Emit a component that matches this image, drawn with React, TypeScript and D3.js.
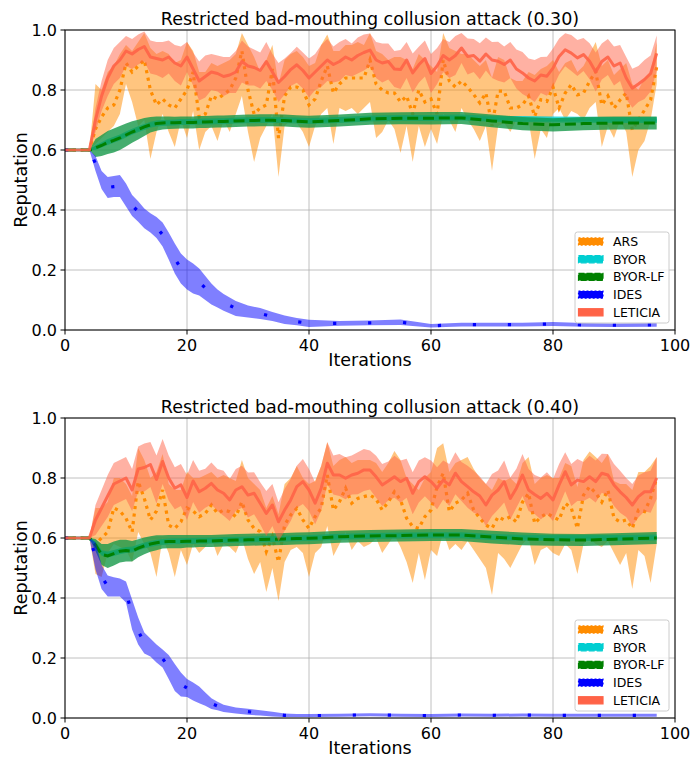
import React from "react";
import * as d3 from "d3";

// iterations sampled for the noisy series (ARS, LETICIA)
const ITER = [
  0,
  4, 5, 6, 7, 8, 9,
  10, 11, 12, 13, 14, 15, 16, 17, 18, 19,
  20, 21, 22, 23, 24, 25, 26, 27, 28, 29,
  30, 31, 32, 33, 34, 35, 36, 37, 38, 39,
  40, 41, 42, 43, 44, 45, 46, 47, 48, 49,
  50, 51, 52, 53, 54, 55, 56, 57, 58, 59,
  60, 61, 62, 63, 64, 65, 66, 67, 68, 69,
  70, 71, 72, 73, 74, 75, 76, 77, 78, 79,
  80, 81, 82, 83, 84, 85, 86, 87, 88, 89,
  90, 91, 92, 93, 94, 95, 96, 97,
];

// iterations sampled for the smooth series (BYOR, BYOR-LF, IDES)
const S_ITER = [
  0, 4, 5, 6, 7, 8, 9, 10, 11, 12, 13, 14, 15, 16, 17, 18, 19, 20, 21, 22, 23, 24, 25, 26,
  28, 30, 32, 34, 36, 38, 40, 45, 50, 55, 60, 65, 70, 75, 80, 85, 90, 97,
];

// ---------- panel 1 : attack 0.30 ----------
const ARS_MEAN_30 = [
  0.6,
  0.60, 0.67, 0.71, 0.74, 0.75, 0.80,
  0.89, 0.86, 0.88, 0.90, 0.80, 0.75, 0.77, 0.75, 0.74, 0.77,
  0.80, 0.86, 0.71, 0.72, 0.78, 0.77, 0.785, 0.80, 0.84, 0.93,
  0.80, 0.72, 0.74, 0.75, 0.87, 0.64, 0.78, 0.81, 0.81, 0.80,
  0.75, 0.77, 0.83, 0.88, 0.79, 0.82, 0.84, 0.84, 0.84, 0.84,
  0.90, 0.82, 0.80, 0.79, 0.79, 0.76, 0.78, 0.72, 0.80, 0.76,
  0.77, 0.72, 0.90, 0.83, 0.81, 0.83, 0.81, 0.785, 0.757, 0.79,
  0.68, 0.796, 0.796, 0.74, 0.74, 0.751, 0.779, 0.712, 0.768, 0.762,
  0.81, 0.74, 0.79, 0.818, 0.784, 0.79, 0.829, 0.862, 0.75, 0.78,
  0.739, 0.767, 0.79, 0.667, 0.70, 0.733, 0.767, 0.878,
];
const ARS_LO_30 = [
  0.6,
  0.60, 0.62, 0.64, 0.66, 0.68, 0.72,
  0.82, 0.76, 0.68, 0.70, 0.57, 0.66, 0.72, 0.66, 0.61, 0.70,
  0.64, 0.73, 0.60, 0.66, 0.68, 0.63, 0.70, 0.66, 0.72, 0.78,
  0.66, 0.56, 0.64, 0.68, 0.72, 0.51, 0.68, 0.70, 0.69, 0.66,
  0.61, 0.68, 0.72, 0.74, 0.62, 0.74, 0.73, 0.74, 0.72, 0.74,
  0.76, 0.64, 0.66, 0.70, 0.67, 0.59, 0.68, 0.56, 0.68, 0.61,
  0.67, 0.62, 0.72, 0.70, 0.66, 0.74, 0.70, 0.67, 0.63, 0.68,
  0.53, 0.68, 0.69, 0.66, 0.70, 0.69, 0.70, 0.57, 0.67, 0.64,
  0.72, 0.74, 0.70, 0.73, 0.72, 0.70, 0.74, 0.76, 0.61, 0.68,
  0.64, 0.70, 0.66, 0.51, 0.60, 0.63, 0.70, 0.82,
];
const ARS_HI_30 = [
  0.6,
  0.60, 0.82, 0.80, 0.86, 0.88, 0.92,
  0.95, 0.93, 0.96, 0.99, 0.94, 0.92, 0.93, 0.92, 0.89, 0.90,
  0.96, 0.93, 0.86, 0.86, 0.89, 0.88, 0.89, 0.90, 0.92, 0.99,
  0.95, 0.91, 0.86, 0.90, 0.95, 0.82, 0.90, 0.92, 0.93, 0.91,
  0.88, 0.89, 0.95, 0.985, 0.93, 0.93, 0.95, 0.95, 0.96, 0.95,
  0.99, 0.93, 0.92, 0.90, 0.91, 0.91, 0.90, 0.87, 0.92, 0.90,
  0.88, 0.86, 0.99, 0.94, 0.93, 0.92, 0.92, 0.90, 0.88, 0.90,
  0.84, 0.91, 0.90, 0.84, 0.83, 0.83, 0.86, 0.85, 0.87, 0.88,
  0.90, 0.86, 0.89, 0.90, 0.86, 0.88, 0.92, 0.96, 0.88, 0.90,
  0.85, 0.87, 0.89, 0.82, 0.80, 0.84, 0.86, 0.96,
];
const LET_MEAN_30 = [
  0.6,
  0.60, 0.70, 0.78, 0.84, 0.88, 0.90,
  0.93, 0.92, 0.935, 0.945, 0.91, 0.905, 0.90, 0.91, 0.89, 0.88,
  0.91, 0.87, 0.83, 0.845, 0.86, 0.855, 0.845, 0.85, 0.86, 0.895,
  0.88, 0.875, 0.865, 0.895, 0.86, 0.825, 0.845, 0.868, 0.884, 0.865,
  0.84, 0.86, 0.88, 0.90, 0.885, 0.895, 0.91, 0.90, 0.915, 0.925,
  0.933, 0.90, 0.89, 0.895, 0.87, 0.868, 0.90, 0.857, 0.884, 0.905,
  0.855, 0.88, 0.915, 0.90, 0.915, 0.94, 0.912, 0.915, 0.896, 0.92,
  0.90, 0.896, 0.885, 0.90, 0.87, 0.857, 0.84, 0.83, 0.85, 0.846,
  0.873, 0.912, 0.934, 0.923, 0.907, 0.918, 0.896, 0.86, 0.895, 0.91,
  0.88, 0.89, 0.84, 0.806, 0.82, 0.835, 0.855, 0.922,
];
const LET_SD_30 = [
  0,
  0, 0.04, 0.05, 0.06, 0.06, 0.06,
  0.05, 0.05, 0.05, 0.05, 0.055, 0.055, 0.06, 0.055, 0.06, 0.065,
  0.05, 0.055, 0.065, 0.07, 0.06, 0.06, 0.065, 0.06, 0.07, 0.07,
  0.065, 0.06, 0.06, 0.065, 0.06, 0.065, 0.06, 0.055, 0.06, 0.06,
  0.065, 0.06, 0.07, 0.07, 0.06, 0.065, 0.06, 0.055, 0.06, 0.06,
  0.055, 0.06, 0.065, 0.06, 0.06, 0.065, 0.06, 0.065, 0.06, 0.06,
  0.065, 0.06, 0.055, 0.06, 0.065, 0.05, 0.06, 0.055, 0.06, 0.055,
  0.06, 0.065, 0.06, 0.06, 0.065, 0.07, 0.065, 0.07, 0.06, 0.065,
  0.065, 0.06, 0.055, 0.06, 0.06, 0.055, 0.06, 0.065, 0.06, 0.06,
  0.065, 0.06, 0.07, 0.065, 0.06, 0.065, 0.06, 0.06,
];
const BYOR_MEAN_30 = [
  0.6, 0.6, 0.608, 0.617, 0.627, 0.634, 0.642, 0.652, 0.661, 0.669, 0.677, 0.684, 0.688, 0.69,
  0.691, 0.692, 0.693, 0.693, 0.694, 0.694, 0.695, 0.695, 0.696, 0.696,
  0.698, 0.699, 0.700, 0.700, 0.699, 0.698, 0.697, 0.700, 0.705, 0.707, 0.707, 0.708, 0.704,
  0.703, 0.702, 0.701, 0.700, 0.700,
];
const BYOR_SD_30 = [
  0, 0, 0.008, 0.009, 0.01, 0.01, 0.01, 0.01, 0.01, 0.01, 0.01, 0.01, 0.01, 0.01,
  0.01, 0.01, 0.01, 0.01, 0.01, 0.01, 0.01, 0.01, 0.01, 0.01,
  0.01, 0.01, 0.01, 0.01, 0.01, 0.01, 0.01, 0.01, 0.01, 0.01, 0.01, 0.01, 0.01,
  0.01, 0.01, 0.01, 0.01, 0.01,
];
const LF_MEAN_30 = [
  0.6, 0.6, 0.607, 0.615, 0.625, 0.632, 0.64, 0.65, 0.66, 0.668, 0.677, 0.684, 0.688, 0.69,
  0.691, 0.691, 0.692, 0.692, 0.692, 0.693, 0.693, 0.694, 0.695, 0.695,
  0.697, 0.698, 0.699, 0.699, 0.698, 0.696, 0.694, 0.698, 0.704, 0.706, 0.706, 0.707, 0.697,
  0.688, 0.684, 0.688, 0.69, 0.69,
];
const LF_SD_30 = [
  0, 0, 0.03, 0.035, 0.038, 0.04, 0.04, 0.038, 0.036, 0.033, 0.03, 0.026, 0.024, 0.022,
  0.021, 0.02, 0.02, 0.02, 0.02, 0.02, 0.02, 0.02, 0.02, 0.02,
  0.02, 0.02, 0.02, 0.02, 0.02, 0.02, 0.02, 0.02, 0.02, 0.02, 0.021, 0.02, 0.021,
  0.022, 0.022, 0.022, 0.022, 0.022,
];
const IDES_MEAN_30 = [
  0.6, 0.6, 0.555, 0.50, 0.475, 0.478, 0.48, 0.45, 0.415, 0.395, 0.372, 0.357, 0.342, 0.318,
  0.28, 0.238, 0.205, 0.185, 0.172, 0.16, 0.14, 0.12, 0.105, 0.092,
  0.072, 0.062, 0.055, 0.045, 0.034, 0.028, 0.022, 0.022, 0.024, 0.026, 0.014, 0.018, 0.018,
  0.018, 0.02, 0.017, 0.016, 0.017,
];
const IDES_SD_30 = [
  0, 0, 0.025, 0.03, 0.035, 0.035, 0.037, 0.038, 0.035, 0.034, 0.033, 0.032, 0.035, 0.04,
  0.045, 0.05, 0.05, 0.05, 0.05, 0.045, 0.04, 0.035, 0.03, 0.028,
  0.025, 0.02, 0.018, 0.015, 0.014, 0.012, 0.012, 0.008, 0.008, 0.009, 0.006, 0.006, 0.006,
  0.006, 0.007, 0.006, 0.006, 0.006,
];

// ---------- panel 2 : attack 0.40 ----------
const ARS_MEAN_40 = [
  0.6,
  0.60, 0.58, 0.60, 0.62, 0.70, 0.69,
  0.666, 0.62, 0.788, 0.732, 0.66, 0.69, 0.76, 0.643, 0.632, 0.654,
  0.70, 0.69, 0.671, 0.682, 0.71, 0.682, 0.693, 0.688, 0.671, 0.721,
  0.66, 0.632, 0.621, 0.554, 0.604, 0.52, 0.643, 0.677, 0.699, 0.66,
  0.632, 0.671, 0.70, 0.81, 0.693, 0.721, 0.766, 0.716, 0.732, 0.738,
  0.743, 0.73, 0.693, 0.72, 0.754, 0.727, 0.666, 0.638, 0.632, 0.671,
  0.693, 0.771, 0.816, 0.688, 0.716, 0.727, 0.749, 0.693, 0.666, 0.643,
  0.632, 0.671, 0.66, 0.671, 0.654, 0.72, 0.749, 0.649, 0.67, 0.682,
  0.671, 0.66, 0.716, 0.70, 0.632, 0.743, 0.771, 0.75, 0.72, 0.76,
  0.666, 0.654, 0.66, 0.632, 0.693, 0.688, 0.732, 0.80,
];
const ARS_LO_40 = [
  0.6,
  0.60, 0.48, 0.47, 0.55, 0.58, 0.57,
  0.56, 0.52, 0.62, 0.58, 0.55, 0.47, 0.60, 0.55, 0.47, 0.56,
  0.51, 0.58, 0.55, 0.57, 0.60, 0.54, 0.58, 0.57, 0.55, 0.60,
  0.53, 0.48, 0.52, 0.42, 0.50, 0.39, 0.52, 0.56, 0.57, 0.55,
  0.47, 0.55, 0.57, 0.64, 0.54, 0.58, 0.62, 0.56, 0.59, 0.57,
  0.58, 0.60, 0.55, 0.58, 0.61, 0.57, 0.52, 0.45, 0.55, 0.46,
  0.56, 0.54, 0.62, 0.56, 0.58, 0.56, 0.59, 0.56, 0.53, 0.50,
  0.41, 0.55, 0.53, 0.50, 0.54, 0.58, 0.60, 0.51, 0.56, 0.57,
  0.55, 0.54, 0.58, 0.56, 0.48, 0.58, 0.60, 0.58, 0.57, 0.59,
  0.55, 0.51, 0.55, 0.43, 0.56, 0.54, 0.45, 0.58,
];
const ARS_HI_40 = [
  0.6,
  0.60, 0.70, 0.70, 0.72, 0.80, 0.80,
  0.78, 0.74, 0.90, 0.86, 0.80, 0.82, 0.88, 0.78, 0.76, 0.76,
  0.82, 0.80, 0.80, 0.81, 0.82, 0.80, 0.81, 0.80, 0.79, 0.86,
  0.80, 0.78, 0.76, 0.70, 0.74, 0.68, 0.78, 0.80, 0.84, 0.80,
  0.78, 0.79, 0.84, 0.92, 0.84, 0.86, 0.87, 0.85, 0.86, 0.86,
  0.86, 0.85, 0.82, 0.85, 0.89, 0.86, 0.80, 0.78, 0.76, 0.80,
  0.82, 0.90, 0.916, 0.82, 0.85, 0.86, 0.87, 0.83, 0.80, 0.78,
  0.76, 0.80, 0.79, 0.80, 0.78, 0.85, 0.87, 0.78, 0.80, 0.81,
  0.80, 0.80, 0.85, 0.84, 0.77, 0.86, 0.888, 0.87, 0.85, 0.88,
  0.79, 0.78, 0.78, 0.76, 0.82, 0.82, 0.84, 0.87,
];
const LET_MEAN_40 = [
  0.6,
  0.60, 0.66, 0.70, 0.74, 0.78, 0.79,
  0.80, 0.76, 0.83, 0.835, 0.845, 0.795, 0.855, 0.80, 0.766, 0.777,
  0.735, 0.79, 0.754, 0.766, 0.782, 0.76, 0.749, 0.727, 0.76, 0.771,
  0.743, 0.749, 0.716, 0.682, 0.71, 0.654, 0.693, 0.727, 0.771, 0.788,
  0.76, 0.716, 0.766, 0.849, 0.81, 0.81, 0.799, 0.81, 0.816, 0.827,
  0.827, 0.804, 0.777, 0.79, 0.804, 0.788, 0.799, 0.749, 0.788, 0.804,
  0.788, 0.766, 0.793, 0.777, 0.816, 0.788, 0.771, 0.754, 0.74, 0.71,
  0.743, 0.76, 0.788, 0.732, 0.766, 0.81, 0.76, 0.745, 0.732, 0.749,
  0.727, 0.777, 0.821, 0.777, 0.793, 0.788, 0.804, 0.788, 0.816, 0.81,
  0.777, 0.754, 0.735, 0.71, 0.738, 0.754, 0.754, 0.80,
];
const LET_SD_40 = [
  0,
  0, 0.05, 0.06, 0.07, 0.07, 0.07,
  0.07, 0.07, 0.075, 0.08, 0.075, 0.08, 0.075, 0.075, 0.07, 0.07,
  0.075, 0.07, 0.07, 0.065, 0.07, 0.07, 0.075, 0.07, 0.07, 0.07,
  0.075, 0.07, 0.07, 0.075, 0.07, 0.065, 0.07, 0.07, 0.07, 0.075,
  0.07, 0.07, 0.075, 0.07, 0.065, 0.07, 0.07, 0.065, 0.07, 0.07,
  0.065, 0.07, 0.07, 0.065, 0.07, 0.07, 0.065, 0.07, 0.07, 0.065,
  0.07, 0.07, 0.065, 0.07, 0.07, 0.065, 0.07, 0.07, 0.065, 0.07,
  0.07, 0.065, 0.07, 0.07, 0.065, 0.07, 0.07, 0.065, 0.07, 0.07,
  0.07, 0.07, 0.065, 0.07, 0.07, 0.065, 0.07, 0.07, 0.065, 0.07,
  0.07, 0.07, 0.065, 0.07, 0.07, 0.065, 0.07, 0.07,
];
const BYOR_MEAN_40 = [
  0.6, 0.6, 0.58, 0.55, 0.545, 0.55, 0.556, 0.56, 0.562, 0.568, 0.575, 0.58, 0.584, 0.587,
  0.588, 0.589, 0.589, 0.59, 0.59, 0.591, 0.591, 0.592, 0.592, 0.593,
  0.594, 0.595, 0.596, 0.597, 0.598, 0.599, 0.600, 0.604, 0.607, 0.608, 0.609, 0.609, 0.603,
  0.601, 0.600, 0.600, 0.600, 0.602,
];
const BYOR_SD_40 = [
  0, 0, 0.008, 0.009, 0.01, 0.01, 0.01, 0.01, 0.01, 0.01, 0.01, 0.01, 0.01, 0.01,
  0.01, 0.01, 0.01, 0.01, 0.01, 0.01, 0.01, 0.01, 0.01, 0.01,
  0.01, 0.01, 0.01, 0.01, 0.01, 0.01, 0.01, 0.01, 0.01, 0.01, 0.01, 0.01, 0.01,
  0.01, 0.01, 0.01, 0.01, 0.01,
];
const LF_MEAN_40 = [
  0.6, 0.6, 0.577, 0.545, 0.54, 0.548, 0.556, 0.558, 0.556, 0.566, 0.574, 0.58, 0.584, 0.587,
  0.588, 0.588, 0.588, 0.589, 0.589, 0.59, 0.59, 0.59, 0.591, 0.592,
  0.593, 0.594, 0.595, 0.596, 0.597, 0.598, 0.599, 0.604, 0.607, 0.608, 0.61, 0.61, 0.603,
  0.597, 0.594, 0.593, 0.596, 0.60,
];
const LF_SD_40 = [
  0, 0, 0.02, 0.035, 0.04, 0.04, 0.038, 0.036, 0.034, 0.03, 0.028, 0.026, 0.025, 0.022,
  0.022, 0.022, 0.022, 0.021, 0.021, 0.02, 0.02, 0.02, 0.02, 0.02,
  0.02, 0.02, 0.02, 0.02, 0.02, 0.02, 0.02, 0.02, 0.02, 0.02, 0.02, 0.02, 0.021,
  0.021, 0.02, 0.02, 0.02, 0.02,
];
const IDES_MEAN_40 = [
  0.6, 0.6, 0.54, 0.47, 0.44, 0.437, 0.435, 0.42, 0.345, 0.29, 0.25, 0.235, 0.215, 0.198,
  0.17, 0.135, 0.112, 0.10, 0.088, 0.077, 0.063, 0.048, 0.04, 0.032,
  0.025, 0.021, 0.017, 0.013, 0.009, 0.008, 0.008, 0.009, 0.011, 0.009, 0.008, 0.01, 0.009,
  0.01, 0.009, 0.009, 0.009, 0.009,
];
const IDES_SD_40 = [
  0, 0, 0.045, 0.04, 0.035, 0.032, 0.03, 0.035, 0.05, 0.045, 0.035, 0.03, 0.03, 0.03,
  0.04, 0.045, 0.04, 0.03, 0.03, 0.028, 0.022, 0.018, 0.014, 0.012,
  0.01, 0.01, 0.009, 0.008, 0.006, 0.005, 0.005, 0.005, 0.005, 0.005, 0.005, 0.005, 0.005,
  0.005, 0.005, 0.005, 0.005, 0.005,
];

const X_TICKS = [0, 20, 40, 60, 80, 100];
const Y_TICKS = [0, 0.2, 0.4, 0.6, 0.8, 1.0];

const LEGEND = [
  { name: "ARS", color: "#ff8c00", dash: "2,2" },
  { name: "BYOR", color: "#00ced1", dash: "6,2" },
  { name: "BYOR-LF", color: "#008000", dash: "6,2" },
  { name: "IDES", color: "#0000ff", dash: "2,2" },
  { name: "LETICIA", color: "#ff6347", dash: "" },
];

const PANELS = [
  {
    title: "Restricted bad-mouthing collusion attack (0.30)",
    top: 30,
    ars: [ARS_MEAN_30, ARS_LO_30, ARS_HI_30],
    let: [LET_MEAN_30, LET_SD_30],
    byor: [BYOR_MEAN_30, BYOR_SD_30],
    lf: [LF_MEAN_30, LF_SD_30],
    ides: [IDES_MEAN_30, IDES_SD_30],
  },
  {
    title: "Restricted bad-mouthing collusion attack (0.40)",
    top: 418,
    ars: [ARS_MEAN_40, ARS_LO_40, ARS_HI_40],
    let: [LET_MEAN_40, LET_SD_40],
    byor: [BYOR_MEAN_40, BYOR_SD_40],
    lf: [LF_MEAN_40, LF_SD_40],
    ides: [IDES_MEAN_40, IDES_SD_40],
  },
];

const FONT = "DejaVu Sans, Verdana, sans-serif";

function Panel({ p }: { p: any }) {
  const x = d3.scaleLinear().domain([0, 100]).range([65, 675]);
  const y = d3.scaleLinear().domain([0, 1]).range([p.top + 300, p.top]);

  const band = (xs: number[], lo: number[], hi: number[]) =>
    d3
      .area<number>()
      .x((d) => x(d))
      .y0((_, i) => y(lo[i]))
      .y1((_, i) => y(hi[i]))(xs) || "";
  const sdBand = (xs: number[], m: number[], sd: number[]) =>
    band(
      xs,
      m.map((v, i) => v - sd[i]),
      m.map((v, i) => v + sd[i])
    );
  const line = (xs: number[], m: number[]) =>
    d3
      .line<number>()
      .x((d) => x(d))
      .y((_, i) => y(m[i]))(xs) || "";

  const [am, alo, ahi] = p.ars;
  const [lm, lsd] = p.let;
  const [bm, bsd] = p.byor;
  const [fm, fsd] = p.lf;
  const [im, isd] = p.ides;
  const clipId = `clip${p.top}`;
  const bottom = p.top + 300;
  const lgX = 575;
  const lgY = p.top + 202;

  return (
    <g>
      <defs>
        <clipPath id={clipId}>
          <rect x={65} y={p.top} width={610} height={300} />
        </clipPath>
      </defs>
      {/* grid */}
      {X_TICKS.map((t) => (
        <line key={"gx" + t} x1={x(t)} x2={x(t)} y1={p.top} y2={bottom} stroke="#b0b0b0" strokeWidth={0.8} />
      ))}
      {Y_TICKS.map((t) => (
        <line key={"gy" + t} x1={65} x2={675} y1={y(t)} y2={y(t)} stroke="#b0b0b0" strokeWidth={0.8} />
      ))}
      <g clipPath={`url(#${clipId})`}>
        {/* ARS */}
        <path d={band(ITER, alo, ahi)} fill="#ff8c00" fillOpacity={0.5} />
        <path d={line(ITER, am)} fill="none" stroke="#ff8c00" strokeWidth={3.2} strokeDasharray="3.2,4.4" />
        {/* BYOR */}
        <path d={sdBand(S_ITER, bm, bsd)} fill="#00ced1" fillOpacity={0.8} />
        <path d={line(S_ITER, bm)} fill="none" stroke="#00ced1" strokeWidth={3} />
        {/* BYOR-LF */}
        <path d={sdBand(S_ITER, fm, fsd)} fill="#16994a" fillOpacity={0.8} />
        <path d={line(S_ITER, fm)} fill="none" stroke="#008000" strokeWidth={3} strokeDasharray="11,4.8" />
        {/* IDES */}
        <path d={sdBand(S_ITER, im, isd)} fill="#0000ff" fillOpacity={0.5} />
        <path d={line(S_ITER, im)} fill="none" stroke="#0000ff" strokeWidth={3.2} strokeDasharray="3.2,31.8" />
        {/* LETICIA */}
        <path d={sdBand(ITER, lm, lsd)} fill="#ff6347" fillOpacity={0.5} />
        <path d={line(ITER, lm)} fill="none" stroke="#ff6347" strokeWidth={3} strokeOpacity={0.9} strokeLinejoin="round" />
      </g>
      {/* frame */}
      <rect x={65} y={p.top} width={610} height={300} fill="none" stroke="#000" strokeWidth={1} />
      {/* x ticks */}
      {X_TICKS.map((t) => (
        <g key={"xt" + t}>
          <line x1={x(t)} x2={x(t)} y1={bottom} y2={bottom + 4.5} stroke="#000" strokeWidth={1} />
          <text x={x(t)} y={bottom + 21} textAnchor="middle" fontSize={16} fontFamily={FONT}>
            {t}
          </text>
        </g>
      ))}
      {Y_TICKS.map((t) => (
        <g key={"yt" + t}>
          <line x1={60.5} x2={65} y1={y(t)} y2={y(t)} stroke="#000" strokeWidth={1} />
          <text x={57} y={y(t) + 6} textAnchor="end" fontSize={16} fontFamily={FONT}>
            {d3.format(".1f")(t)}
          </text>
        </g>
      ))}
      <text x={370} y={p.top - 5} textAnchor="middle" fontSize={17.5} fontFamily={FONT}>
        {p.title}
      </text>
      <text x={370} y={bottom + 36} textAnchor="middle" fontSize={17.5} fontFamily={FONT}>
        Iterations
      </text>
      <text
        transform={`translate(27,${p.top + 150}) rotate(-90)`}
        textAnchor="middle"
        fontSize={17.5}
        fontFamily={FONT}
      >
        Reputation
      </text>
      {/* legend */}
      <rect x={lgX} y={lgY} width={94} height={91} rx={2.5} fill="#fff" fillOpacity={0.8} stroke="#cccccc" strokeWidth={1} />
      {LEGEND.map((l, i) => {
        const cy = lgY + 9.5 + i * 17.7;
        return (
          <g key={l.name}>
            <rect x={578.5} y={cy - 3.6} width={24.5} height={7.2} fill={l.color} stroke={l.color} strokeWidth={1.2} strokeDasharray={l.dash} />
            <text x={613} y={cy + 4.4} fontSize={12.5} fontFamily={FONT}>
              {l.name}
            </text>
          </g>
        );
      })}
    </g>
  );
}

export default function App() {
  return (
    <svg width={692} height={758} style={{ position: "absolute", left: 0, top: 0, background: "#fff" }}>
      {PANELS.map((p) => (
        <Panel key={p.top} p={p} />
      ))}
    </svg>
  );
}
